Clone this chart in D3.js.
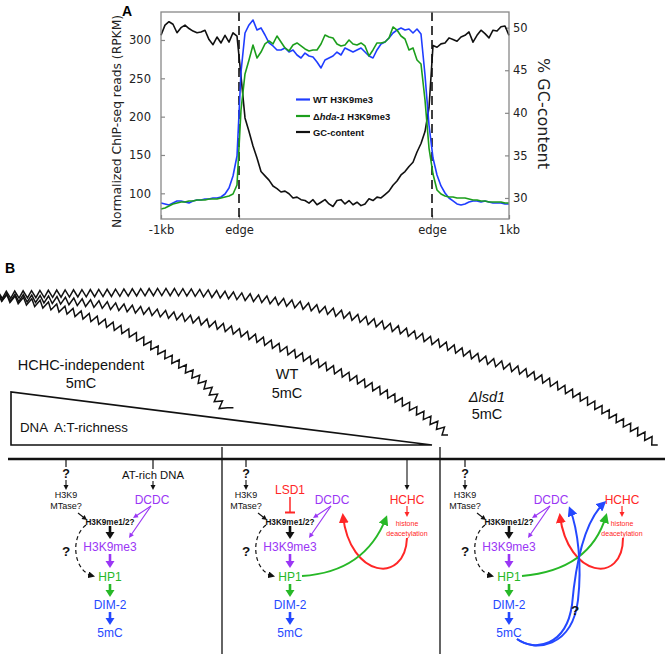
<!DOCTYPE html>
<html><head><meta charset="utf-8">
<script src="https://cdn.jsdelivr.net/npm/d3@7/dist/d3.min.js"></script>
<style>html,body{margin:0;padding:0;background:#fff;} svg{display:block;}</style>
</head><body>
<svg id="fig" width="665" height="654"></svg>
<script>
// ---------------- Panel A data ----------------
const xTickLabels = ["-1kb", "edge", "edge", "1kb"];
const xTickBins = [0, 19.5, 67.75, 87];
const leftTickValues = [100, 150, 200, 250, 300];
const rightTickValues = [30, 35, 40, 45, 50];
const seriesNames = ["WT H3K9me3", "hda-1 H3K9me3", "GC-content"];

const wtH3K9me3 = [87.4,86.1,84.8,87.4,90.0,90.0,88.7,87.4,90.0,91.3,
  91.3,92.6,92.6,93.9,93.9,95.2,99.1,107.0,122.6,148.7,
  258.3,309.1,319.6,326.1,313.0,315.7,306.5,296.1,292.2,287.0,
  287.0,289.6,284.3,287.0,280.4,276.5,283.0,279.1,277.8,271.3,
  263.5,273.9,276.5,279.1,284.3,280.4,289.6,287.0,284.3,287.0,
  289.6,284.3,279.1,276.5,287.0,294.8,297.4,302.6,309.1,313.0,
  315.7,313.0,314.3,309.1,314.3,307.8,254.3,189.1,146.1,123.9,
  109.6,100.4,93.9,90.0,86.1,84.8,86.1,88.7,90.0,90.0,
  88.7,90.0,88.7,87.4,87.4,87.4,86.1,86.1];

const hda1H3K9me3 = [79.6,80.9,83.5,86.1,87.4,88.7,88.7,90.0,90.0,91.3,
  91.3,91.3,92.6,92.6,92.6,93.9,95.2,96.5,99.1,110.9,
  208.7,255.7,273.9,293.5,276.5,284.3,294.8,298.7,294.8,305.2,
  297.4,289.6,285.7,293.5,296.1,292.2,288.3,285.7,287.0,287.0,
  294.8,306.5,303.9,302.6,294.8,292.2,293.5,300.0,294.8,293.5,
  296.1,292.2,279.1,287.0,296.1,296.1,297.4,302.6,317.0,313.0,
  305.2,301.3,287.0,289.6,273.9,268.7,221.7,159.1,125.2,104.4,
  99.1,96.5,95.2,95.2,93.9,93.9,93.9,92.6,91.3,91.3,
  90.0,90.0,88.7,88.7,88.7,88.7,87.4,87.4];

const gcContent = [49.1,50.3,50.7,50.4,49.4,50.0,50.3,49.9,49.6,49.4,
  49.5,49.7,48.6,48.0,48.9,48.2,49.1,48.3,49.4,49.0,
  44.3,39.4,37.8,36.1,34.7,33.1,32.6,32.1,31.4,31.1,
  30.7,30.8,30.5,30.0,30.1,29.8,29.7,29.4,29.8,29.2,
  29.5,29.8,29.3,29.0,29.7,29.8,29.3,29.7,29.2,29.5,
  29.1,29.3,29.9,29.7,30.1,30.0,30.4,30.8,31.5,32.0,
  32.7,33.1,33.7,34.2,35.4,36.4,37.8,40.6,47.9,47.7,
  48.1,48.2,48.8,48.6,48.4,48.9,49.1,49.5,48.3,49.1,
  49.7,49.3,48.8,49.7,49.6,50.1,50.2,49.1];

// ---------------- Panel B layout (schematic) ----------------
const fiberHCHCindep = [[-2,297],[50,306],[100,321],[133,335],[167,356],[190,372],[208,388],[221,405],[226,412]];
const fiberWT = [[-2,297],[67,301],[133,309],[200,321],[250,336],[298,355],[362,382],[404,403],[438,426],[445,433]];
const fiberLsd1 = [[-2,295],[100,293],[200,293],[300,305],[400,330],[480,358],[530,374],[580,397],[630,427],[657,444]];
const sectionCenters = [110, 290, 509];

// ---------------- drawing ----------------
const svg = d3.select("#fig");
const FA = "'DejaVu Sans', sans-serif";
const FB = "'Liberation Sans', Arial, Helvetica, sans-serif";
const COL = {wt:"#1f3dff", hda:"#1c9e1c", gc:"#111111", purple:"#9a36f5", green:"#27b827", blue:"#2448ff", red:"#ff2626"};

const plot = {l:161, r:509, t:12, b:219};
const x = d3.scaleLinear().domain([0, wtH3K9me3.length - 1]).range([plot.l, plot.r]);
const yL = d3.scaleLinear().domain([66.5, 336.5]).range([plot.b, plot.t]);
const yR = d3.scaleLinear().domain([27.53, 51.84]).range([plot.b, plot.t]);

const gA = svg.append("g");
function styleAxis(sel){
  sel.select(".domain").remove();
  sel.selectAll(".tick line").attr("stroke","#888").attr("stroke-width",1.2);
  sel.selectAll(".tick text").attr("font-family",FA).attr("font-size",11.5).attr("fill","#222");
}
gA.append("g").attr("transform",`translate(${plot.l},0)`)
  .call(d3.axisLeft(yL).tickValues(leftTickValues).tickSize(-4).tickPadding(10)).call(styleAxis);
gA.append("g").attr("transform",`translate(${plot.r},0)`)
  .call(d3.axisRight(yR).tickValues(rightTickValues).tickSize(-4).tickPadding(4)).call(styleAxis);
gA.append("g").attr("transform",`translate(0,${plot.b})`)
  .call(d3.axisBottom(x).tickValues(xTickBins).tickFormat((d,i)=>xTickLabels[i]).tickSize(-4).tickPadding(7)).call(styleAxis);

// edges
xTickBins.slice(1,3).forEach(b=>{
  gA.append("line").attr("x1",x(b)).attr("x2",x(b)).attr("y1",plot.t).attr("y2",plot.b)
    .attr("stroke","#000").attr("stroke-width",1.5).attr("stroke-dasharray","9,5");
});

const lineL = d3.line().x((d,i)=>x(i)).y(d=>yL(d));
const lineR = d3.line().x((d,i)=>x(i)).y(d=>yR(d));
gA.append("path").attr("d",lineR(gcContent)).attr("fill","none").attr("stroke",COL.gc).attr("stroke-width",1.6).attr("stroke-linejoin","round");
gA.append("path").attr("d",lineL(wtH3K9me3)).attr("fill","none").attr("stroke",COL.wt).attr("stroke-width",1.6).attr("stroke-linejoin","round");
gA.append("path").attr("d",lineL(hda1H3K9me3)).attr("fill","none").attr("stroke",COL.hda).attr("stroke-width",1.6).attr("stroke-linejoin","round");

gA.append("rect").attr("x",plot.l).attr("y",plot.t).attr("width",plot.r-plot.l).attr("height",plot.b-plot.t)
  .attr("fill","none").attr("stroke","#888").attr("stroke-width",1.3);

// axis titles
gA.append("text").attr("transform","translate(117,121.5) rotate(-90)").attr("text-anchor","middle")
  .attr("dominant-baseline","central").attr("font-family",FA).attr("font-size",12.3).attr("fill","#222")
  .text("Normalized ChIP-seq reads (RPKM)");
gA.append("text").attr("transform","translate(543,113.5) rotate(90)").attr("text-anchor","middle")
  .attr("dominant-baseline","central").attr("font-family",FA).attr("font-size",16).attr("fill","#222")
  .text("% GC-content");

// legend
const legColors = [COL.wt, COL.hda, COL.gc];
const legY = [99.5, 116, 132];
seriesNames.forEach((name,i)=>{
  gA.append("line").attr("x1",296).attr("x2",310).attr("y1",legY[i]).attr("y2",legY[i]).attr("stroke",legColors[i]).attr("stroke-width",2.2);
  const t = gA.append("text").attr("x",313).attr("y",legY[i]).attr("dominant-baseline","central")
    .attr("font-family",FB).attr("font-weight","bold").attr("font-size",9.4).attr("fill","#111");
  if (i===1) {
    t.append("tspan").text("Δ");
    t.append("tspan").attr("font-style","italic").text("hda-1");
    t.append("tspan").text(" H3K9me3");
  } else t.text(name);
});

// panel letters
svg.append("text").attr("x",122).attr("y",16).attr("font-family",FB).attr("font-weight","bold").attr("font-size",14).text("A");
svg.append("text").attr("x",5).attr("y",273).attr("font-family",FB).attr("font-weight","bold").attr("font-size",14).text("B");

// ---------------- Panel B ----------------
const gB = svg.append("g");
const defs = svg.append("defs");
function marker(id,color,size){
  defs.append("marker").attr("id",id).attr("viewBox","0 0 10 10").attr("refX",7).attr("refY",5)
    .attr("markerWidth",size).attr("markerHeight",size).attr("markerUnits","userSpaceOnUse").attr("orient","auto")
    .append("path").attr("d","M0,0L10,5L0,10Z").attr("fill",color);
}
marker("mRed",COL.red,10); marker("mGreen",COL.green,10); marker("mBlue",COL.blue,10); marker("mBlack",COL.gc,7);

function txt(s,x0,y0,o={}){
  return gB.append("text").attr("x",x0).attr("y",y0).attr("text-anchor",o.anchor||"middle")
    .attr("dominant-baseline","central").attr("font-family",FB).attr("font-size",o.size||12)
    .attr("font-weight",o.weight||"normal").attr("font-style",o.style||"normal")
    .attr("fill",o.color||"#111").style("white-space","pre").text(s);
}
function seg(x1,y1,x2,y2,color,w){
  gB.append("line").attr("x1",x1).attr("y1",y1).attr("x2",x2).attr("y2",y2).attr("stroke",color).attr("stroke-width",w);
}
function arrow(x1,y1,x2,y2,color,w,hw,hl){
  const dx=x2-x1, dy=y2-y1, L=Math.hypot(dx,dy), ux=dx/L, uy=dy/L;
  const bx=x2-ux*hl, by=y2-uy*hl;
  seg(x1,y1,bx+ux*0.5,by+uy*0.5,color,w);
  gB.append("path").attr("d",`M${x2},${y2}L${bx-uy*hw/2},${by+ux*hw/2}L${bx+uy*hw/2},${by-ux*hw/2}Z`).attr("fill",color);
}
function curve(d,color,w,mk,dash){
  const p = gB.append("path").attr("d",d).attr("fill","none").attr("stroke",color).attr("stroke-width",w);
  if (mk) p.attr("marker-end",`url(#${mk})`);
  if (dash) p.attr("stroke-dasharray",dash);
}

// zigzag chromatin fibres
function zigzag(points, period, amp){
  const tmp = gB.append("path").attr("d", d3.line().curve(d3.curveCatmullRom)(points)).attr("fill","none");
  const node = tmp.node(), L = node.getTotalLength();
  const out = []; let k = 0;
  for (let s = 0; s <= L; s += period/2, k++){
    const p = node.getPointAtLength(s);
    const a = node.getPointAtLength(Math.max(0,s-0.5)), b = node.getPointAtLength(Math.min(L,s+0.5));
    const dx=b.x-a.x, dy=b.y-a.y, n=Math.hypot(dx,dy)||1;
    const sg = k%2 ? 1 : -1;
    out.push([p.x - dy/n*amp*sg, p.y + dx/n*amp*sg]);
  }
  tmp.remove();
  const last = out[out.length-1];
  out.push([last[0]+6, last[1]]);
  gB.append("path").attr("d", d3.line()(out)).attr("fill","none").attr("stroke","#111").attr("stroke-width",1.5).attr("stroke-linejoin","miter");
}
[fiberLsd1, fiberWT, fiberHCHCindep].forEach(f=>zigzag(f, 8.4, 3.6));

txt("HCHC-independent",81,365,{size:14.5});
txt("5mC",81,383,{size:14.5});
txt("WT",287,374,{size:14.5});
txt("5mC",287,393,{size:14.5});
txt("Δlsd1",487,397,{size:14.5,style:"italic"});
txt("5mC",487,414,{size:14.5});

// triangle
gB.append("path").attr("d","M11,392L11,445L432,445Z").attr("fill","none").attr("stroke","#111").attr("stroke-width",1.6);
txt("DNA  A:T-richness",20,427,{size:13.3,anchor:"start"});

// separators
seg(8,459,665,459,"#111",2.6);
seg(222,447,222,654,"#111",1.3);
seg(440,447,440,654,"#111",1.3);

function pathway(cx){
  const mx = cx-44, dx = cx+42;
  seg(mx,459,mx,467,"#111",1.2);
  txt("?",mx,474,{size:12.5,weight:"bold"});
  arrow(mx,480,mx,490,"#111",1.1,5,5);
  txt("H3K9",mx,495,{size:9});
  txt("MTase?",mx,506,{size:9});
  arrow(mx+12,513,mx+21,520,"#111",1.1,5,5);
  txt("H3K9me1/2?",cx,522,{size:8.2,weight:"bold"});
  arrow(cx,526,cx,539,"#111",2.6,9,7);
  txt("H3K9me3",cx,547,{size:12,color:COL.purple});
  arrow(cx,554,cx,568,COL.purple,2.6,9,7);
  txt("HP1",cx,577,{size:12,color:COL.green});
  arrow(cx,584,cx,597,COL.green,2.6,9,7);
  txt("DIM-2",cx,605,{size:12,color:COL.blue});
  arrow(cx,612,cx,625,COL.blue,2.6,9,7);
  txt("5mC",cx,633,{size:12,color:COL.blue});
  txt("DCDC",dx,500,{size:12,color:COL.purple});
  arrow(dx-1,506,cx+23,518,COL.purple,1.1,5,5);
  arrow(dx-1,506,cx+19,538,COL.purple,1.1,5,5);
  curve(`M${cx-24},525 C${cx-40},537 ${cx-37},571 ${cx-17},576`,"#111",1.2,"mBlack","4,3");
  txt("?",cx-44,551,{size:13.5,weight:"bold"});
}
sectionCenters.forEach(pathway);

// section 1 extra
seg(153,459,153,469,"#111",1.2);
txt("AT-rich DNA",153,475,{size:11.3});
arrow(153,481,153,490,"#111",1.1,5,5);

// section 2 extras
txt("LSD1",290,490,{size:12,color:COL.red});
seg(290,497,290,512,COL.red,1.5);
seg(285,512.5,295,512.5,COL.red,2);
arrow(407,459,407,490,"#111",1.1,5,5);
txt("HCHC",407,500,{size:12,color:COL.red});
arrow(407,506,407,517,COL.red,1.2,5,5);
txt("histone",407,523,{size:7,color:COL.red});
txt("deacetylation",407,533,{size:7,color:COL.red});
curve("M407,538 C405,585 350,578 343,516",COL.red,2,"mRed");
curve("M302,576 Q365,572 386,518",COL.green,2,"mGreen");

// section 3 extras
txt("HCHC",622,500,{size:12,color:COL.red});
arrow(622,506,622,517,COL.red,1.2,5,5);
txt("histone",622,523,{size:7,color:COL.red});
txt("deacetylation",622,533,{size:7,color:COL.red});
curve("M623,538 C623,585 568,578 560,516",COL.red,2,"mRed");
curve("M522,576 Q590,570 606,516",COL.green,2,"mGreen");
curve("M517,639 C535,652 572,648 578,600 C582,565 578,530 570,509",COL.blue,2,"mBlue");
curve("M517,639 C535,652 566,646 572,605 C576,560 586,520 604,503",COL.blue,2,"mBlue");
txt("?",575,610,{size:13.5,weight:"bold"});
</script>
</body></html>
